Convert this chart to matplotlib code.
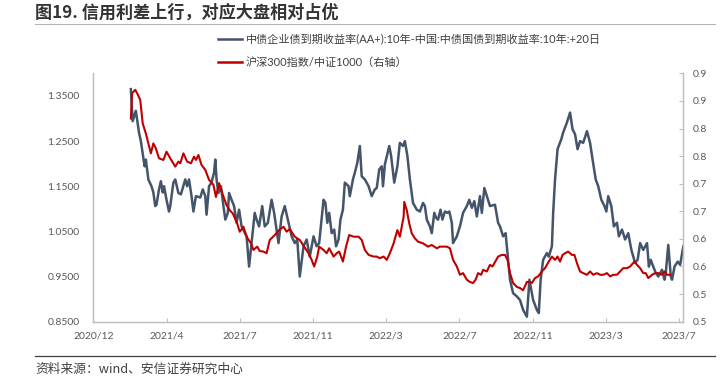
import matplotlib
matplotlib.use("Agg")
import matplotlib.pyplot as plt
import numpy as np
import pandas as pd
from matplotlib.lines import Line2D

# dates are stored as day offsets from the first x tick
BASE_DATE = pd.Timestamp("2020-12-08")
TICK_STEP_DAYS = 117
X_END_DAYS = 943

GREY_DAYS = [60, 63, 68, 73, 76, 82, 84, 88, 93, 96, 99, 101, 105, 108, 111, 113, 117, 121, 123, 128,
             131, 136, 140, 147, 150, 153, 157, 160, 164, 171, 175, 179, 181, 185, 189, 193, 195, 197,
             200, 204, 208, 211, 215, 217, 221, 225, 229, 233, 237, 245, 249, 258, 261, 265, 270, 274,
             279, 285, 289, 296, 301, 306, 312, 317, 322, 326, 330, 336, 341, 346, 352, 357, 361, 368,
             371, 374, 377, 381, 385, 388, 392, 395, 399, 402, 408, 410, 415, 418, 422, 426, 429, 434,
             440, 445, 450, 453, 457, 461, 463, 466, 473, 476, 481, 486, 490, 495, 498, 502, 506, 511,
             517, 522, 527, 530, 533, 538, 541, 545, 548, 551, 555, 558, 562, 566, 569, 573, 575, 581,
             586, 591, 597, 601, 605, 609, 613, 618, 621, 625, 629, 634, 642, 647, 650, 655, 659, 663,
             666, 671, 677, 682, 687, 693, 697, 700, 703, 709, 712, 715, 719, 725, 728, 733, 735, 738,
             742, 748, 751, 757, 762, 766, 770, 774, 778, 783, 789, 794, 798, 803, 807, 812, 817, 820,
             823, 828, 832, 837, 840, 845, 850, 855, 860, 866, 870, 874, 879, 885, 888, 891, 895, 899,
             903, 909, 913, 915, 919, 923, 925, 929, 934, 938, 943]
GREY_VALS = [1.365, 1.294, 1.317, 1.269, 1.250, 1.194, 1.209, 1.165, 1.150, 1.136, 1.106, 1.109, 1.143,
             1.161, 1.136, 1.150, 1.120, 1.094, 1.106, 1.158, 1.165, 1.135, 1.132, 1.165, 1.150, 1.165,
             1.128, 1.094, 1.128, 1.125, 1.143, 1.128, 1.087, 1.150, 1.158, 1.180, 1.209, 1.165, 1.135,
             1.150, 1.106, 1.076, 1.091, 1.135, 1.120, 1.106, 1.069, 1.098, 1.061, 1.039, 0.972, 1.091,
             1.076, 1.061, 1.106, 1.061, 1.069, 1.120, 1.091, 1.024, 1.083, 1.106, 1.069, 1.039, 1.024,
             1.032, 0.950, 1.017, 1.032, 0.994, 1.039, 1.017, 1.024, 1.120, 1.113, 1.069, 1.091, 1.046,
             1.054, 1.017, 1.032, 1.076, 1.098, 1.158, 1.150, 1.128, 1.165, 1.180, 1.202, 1.239, 1.172,
             1.165, 1.150, 1.128, 1.143, 1.146, 1.187, 1.194, 1.150, 1.198, 1.239, 1.217, 1.158, 1.194,
             1.246, 1.239, 1.250, 1.217, 1.165, 1.113, 1.098, 1.094, 1.113, 1.106, 1.076, 1.061, 1.046,
             1.091, 1.080, 1.076, 1.098, 1.076, 1.094, 1.091, 1.094, 1.069, 1.024, 1.039, 1.061, 1.091,
             1.106, 1.120, 1.102, 1.117, 1.083, 1.128, 1.091, 1.146, 1.128, 1.106, 1.109, 1.069, 1.061,
             1.039, 1.046, 0.987, 0.943, 0.913, 0.906, 0.898, 0.876, 0.861, 0.943, 0.920, 0.898, 0.876,
             0.869, 0.943, 0.987, 1.002, 0.994, 1.017, 1.091, 1.165, 1.232, 1.254, 1.269, 1.291, 1.313,
             1.276, 1.265, 1.232, 1.250, 1.246, 1.272, 1.246, 1.209, 1.165, 1.150, 1.120, 1.106, 1.094,
             1.128, 1.106, 1.061, 1.069, 1.039, 1.054, 1.032, 1.046, 1.009, 0.980, 0.987, 1.024, 1.009,
             1.024, 0.972, 0.987, 0.972, 0.958, 0.950, 0.965, 0.943, 0.958, 1.020, 0.950, 0.943, 0.972,
             0.983, 0.976, 1.017]

RED_DAYS = [60, 62, 67, 70, 75, 79, 84, 92, 96, 100, 105, 112, 117, 123, 131, 136, 139, 144, 150, 156,
            161, 164, 168, 173, 179, 185, 192, 196, 201, 207, 213, 218, 223, 230, 234, 240, 245, 252,
            256, 262, 266, 272, 277, 282, 290, 297, 304, 309, 314, 322, 330, 337, 344, 349, 353, 358,
            361, 368, 373, 377, 384, 389, 393, 399, 404, 409, 416, 424, 429, 434, 440, 448, 453, 458,
            464, 469, 474, 480, 486, 490, 496, 497, 501, 505, 509, 514, 519, 527, 535, 541, 549, 554,
            559, 565, 570, 575, 581, 586, 591, 597, 602, 607, 611, 615, 620, 623, 629, 634, 638, 642,
            647, 653, 658, 662, 666, 671, 677, 682, 687, 693, 698, 701, 706, 711, 717, 722, 728, 733,
            738, 742, 746, 750, 754, 759, 765, 769, 773, 778, 783, 789, 794, 799, 805, 810, 815, 821,
            826, 831, 837, 842, 847, 853, 858, 865, 869, 874, 879, 883, 887, 893, 898, 903, 909, 913,
            917, 922]
RED_VALS = [0.818, 0.864, 0.870, 0.864, 0.852, 0.809, 0.791, 0.755, 0.773, 0.764, 0.746, 0.743, 0.758,
            0.746, 0.731, 0.740, 0.737, 0.755, 0.740, 0.737, 0.749, 0.743, 0.752, 0.734, 0.725, 0.707,
            0.698, 0.676, 0.701, 0.680, 0.661, 0.652, 0.646, 0.628, 0.613, 0.622, 0.604, 0.592, 0.580,
            0.586, 0.578, 0.577, 0.574, 0.598, 0.607, 0.616, 0.622, 0.613, 0.618, 0.604, 0.598, 0.586,
            0.574, 0.562, 0.550, 0.568, 0.586, 0.580, 0.574, 0.583, 0.568, 0.574, 0.577, 0.559, 0.586,
            0.607, 0.604, 0.604, 0.598, 0.580, 0.571, 0.568, 0.568, 0.565, 0.568, 0.562, 0.574, 0.592,
            0.616, 0.604, 0.640, 0.667, 0.652, 0.628, 0.610, 0.601, 0.595, 0.592, 0.586, 0.589, 0.583,
            0.586, 0.586, 0.586, 0.583, 0.562, 0.550, 0.535, 0.538, 0.526, 0.522, 0.520, 0.526, 0.538,
            0.535, 0.544, 0.541, 0.553, 0.550, 0.558, 0.568, 0.571, 0.571, 0.562, 0.538, 0.520, 0.513,
            0.511, 0.507, 0.522, 0.522, 0.520, 0.529, 0.532, 0.541, 0.547, 0.559, 0.568, 0.562, 0.568,
            0.559, 0.571, 0.574, 0.577, 0.571, 0.571, 0.556, 0.541, 0.538, 0.535, 0.541, 0.535, 0.538,
            0.535, 0.535, 0.538, 0.532, 0.535, 0.535, 0.541, 0.547, 0.547, 0.550, 0.559, 0.553, 0.547,
            0.538, 0.538, 0.529, 0.535, 0.538, 0.538, 0.535, 0.541, 0.535, 0.535]

LEFT_TICKS = [0.85, 0.95, 1.05, 1.15, 1.25, 1.35]
RIGHT_TICKS = [0.45, 0.50, 0.55, 0.60, 0.65, 0.70, 0.75, 0.80, 0.85, 0.90]
RIGHT_TICK_LABELS = ["0.5", "0.5", "0.6", "0.6", "0.7", "0.7", "0.8", "0.8", "0.9", "0.9"]

TITLE = "图19. 信用利差上行，对应大盘相对占优"
LABEL_GREY = "中债企业债到期收益率(AA+):10年-中国:中债国债到期收益率:10年:+20日"
LABEL_RED = "沪深300指数/中证1000（右轴）"
SOURCE = "资料来源：wind、安信证券研究中心"

GREY = "#44546A"
RED = "#C00000"
TICK_COLOR = "#595959"
SPINE_COLOR = "#BFBFBF"

W, H = 726, 379


def to_dates(days):
    return BASE_DATE + pd.to_timedelta(np.asarray(days), unit="D")


def main():
    plt.rcParams["font.family"] = ["Lato", "Noto Sans CJK SC", "DejaVu Sans"]

    fig = plt.figure(figsize=(W / 100, H / 100), dpi=100)
    ax = fig.add_axes([93.3 / W, 1 - 321.7 / H, 590 / W, 248.4 / H])
    ax2 = ax.twinx()

    ax.plot(to_dates(GREY_DAYS), GREY_VALS, color=GREY, lw=1.8, zorder=2)
    ax2.plot(to_dates(RED_DAYS), RED_VALS, color=RED, lw=1.5, zorder=3)

    ax.set_xlim(BASE_DATE, BASE_DATE + pd.Timedelta(days=X_END_DAYS))
    ax.set_ylim(0.85, 1.40)
    ax2.set_ylim(0.45, 0.90)

    xticks = [BASE_DATE + pd.Timedelta(days=TICK_STEP_DAYS * k) for k in range(9)]
    ax.set_xticks(xticks)
    ax.set_xticklabels([f"{d.year}/{d.month}" for d in xticks])
    ax.set_yticks(LEFT_TICKS)
    ax.set_yticklabels([f"{v:.4f}" for v in LEFT_TICKS])
    ax2.set_yticks(RIGHT_TICKS)
    ax2.set_yticklabels(RIGHT_TICK_LABELS)

    ax.tick_params(axis="x", direction="in", length=3, width=0.8, color=SPINE_COLOR,
                   labelsize=7.5, labelcolor=TICK_COLOR, pad=7)
    ax.tick_params(axis="y", length=0, labelsize=7.5, labelcolor=TICK_COLOR, pad=10)
    ax2.tick_params(axis="y", direction="in", length=3, width=0.8, color=SPINE_COLOR,
                    labelsize=7.5, labelcolor=TICK_COLOR, pad=7)

    for a in (ax, ax2):
        a.spines["top"].set_visible(False)
        for side in ("left", "right", "bottom"):
            a.spines[side].set_color(SPINE_COLOR)
            a.spines[side].set_linewidth(0.9)

    handles = [Line2D([], [], color=GREY, lw=1.8), Line2D([], [], color=RED, lw=1.8)]
    fig.legend(handles, [LABEL_GREY, LABEL_RED], loc="upper left",
               bbox_to_anchor=(218 / W, 1 - 34 / H), frameon=False, fontsize=8,
               handlelength=2.2, handletextpad=0.3, labelspacing=1.1,
               borderpad=0, borderaxespad=0, labelcolor="#404040")

    fig.text(35 / W, 1 - 13 / H, TITLE, fontsize=12.3, fontweight="bold", color="#333333",
             va="center", ha="left", family=["Noto Sans CJK SC", "DejaVu Sans"])
    fig.add_artist(Line2D([35 / W, 715 / W], [1 - 24 / H, 1 - 24 / H], color="#B0B0B0", lw=0.7))
    fig.add_artist(Line2D([35 / W, 715 / W], [1 - 356 / H, 1 - 356 / H], color="#404040", lw=0.9))
    fig.text(35 / W, 1 - 369 / H, SOURCE, fontsize=9.2, style="italic", color="#404040",
             va="center", ha="left", family=["Noto Sans CJK SC", "DejaVu Sans"])

    fig.savefig("out.png", dpi=100)
    plt.close(fig)


if __name__ == "__main__":
    main()
